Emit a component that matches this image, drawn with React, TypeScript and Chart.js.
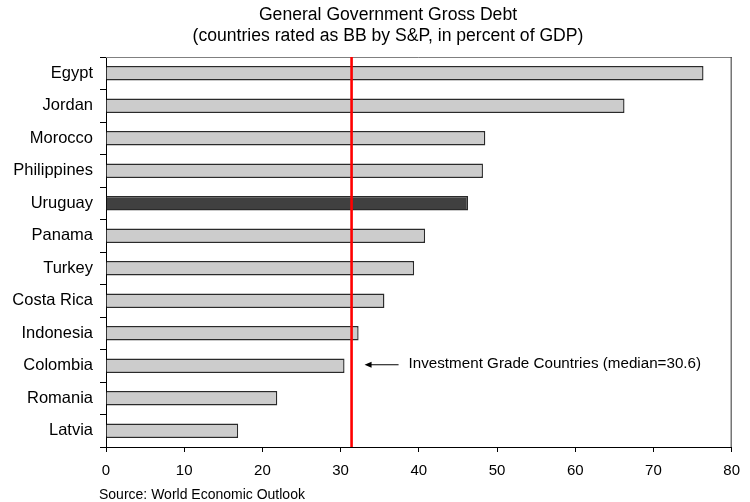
import React, { useEffect, useRef } from "react";
import { Chart, registerables } from "chart.js";

Chart.register(...registerables);

const categories = [
  "Egypt",
  "Jordan",
  "Morocco",
  "Philippines",
  "Uruguay",
  "Panama",
  "Turkey",
  "Costa Rica",
  "Indonesia",
  "Colombia",
  "Romania",
  "Latvia",
];
const debtValues = [76.4, 66.3, 48.5, 48.2, 46.3, 40.8, 39.4, 35.6, 32.3, 30.5, 21.9, 16.9];
const highlighted = "Uruguay";
const medianLineValue = 31.4;
const annotationCategory = "Colombia";
const annotationText = "Investment Grade Countries (median=30.6)";
const titleLines = [
  "General Government Gross Debt",
  "(countries rated as BB by S&P, in percent of GDP)",
];
const sourceText = "Source: World Economic Outlook";
const xMin = 0;
const xMax = 80;
const xStep = 10;

const FONT = "'Liberation Sans', Arial, Helvetica, sans-serif";

export default function App() {
  const ref = useRef<HTMLCanvasElement | null>(null);

  useEffect(() => {
    if (!ref.current) return;
    const overlay = {
      id: "overlay",
      beforeDatasetsDraw(chart: any) {
        const { ctx, chartArea } = chart;
        ctx.save();
        ctx.lineWidth = 1;
        ctx.strokeStyle = "#808080";
        ctx.beginPath();
        ctx.moveTo(chartArea.left, chartArea.top + 0.5);
        ctx.lineTo(chartArea.right, chartArea.top + 0.5);
        ctx.stroke();
        ctx.strokeStyle = "#303030";
        ctx.beginPath();
        ctx.moveTo(chartArea.right - 0.5, chartArea.top);
        ctx.lineTo(chartArea.right - 0.5, chartArea.bottom);
        ctx.stroke();
        ctx.restore();
      },
      afterDatasetsDraw(chart: any) {
        const { ctx, chartArea, scales } = chart;
        const xs = scales.x;
        const ys = scales.y;
        ctx.save();
        const rx = xs.getPixelForValue(medianLineValue);
        ctx.strokeStyle = "#ff0000";
        ctx.lineWidth = 2.6;
        ctx.beginPath();
        ctx.moveTo(rx, chartArea.top);
        ctx.lineTo(rx, chartArea.bottom);
        ctx.stroke();
        const ay = ys.getPixelForValue(categories.indexOf(annotationCategory)) - 1.5;
        const ax0 = rx + 13;
        const ax1 = rx + 47;
        ctx.strokeStyle = "#000";
        ctx.lineWidth = 1;
        ctx.beginPath();
        ctx.moveTo(ax0 + 4, ay + 0.5);
        ctx.lineTo(ax1, ay + 0.5);
        ctx.stroke();
        ctx.fillStyle = "#000";
        ctx.beginPath();
        ctx.moveTo(ax0, ay + 0.5);
        ctx.lineTo(ax0 + 7, ay - 2.5);
        ctx.lineTo(ax0 + 7, ay + 3.5);
        ctx.closePath();
        ctx.fill();
        ctx.font = `15.2px ${FONT}`;
        ctx.textAlign = "left";
        ctx.textBaseline = "middle";
        ctx.fillText(annotationText, rx + 57, ay);
        ctx.restore();
      },
      afterDraw(chart: any) {
        const { ctx } = chart;
        ctx.save();
        ctx.fillStyle = "#000";
        ctx.font = `17.6px ${FONT}`;
        ctx.textAlign = "center";
        ctx.textBaseline = "middle";
        ctx.fillText(titleLines[0], 388, 15);
        ctx.fillText(titleLines[1], 388, 36);
        ctx.font = `14px ${FONT}`;
        ctx.textAlign = "left";
        ctx.fillText(sourceText, 99, 495);
        ctx.restore();
      },
    };

    const chart = new Chart(ref.current, {
      type: "bar",
      data: {
        labels: categories,
        datasets: [
          {
            data: debtValues,
            backgroundColor: categories.map((c) => (c === highlighted ? "#404040" : "#cccccc")),
            borderColor: "#2a2a2a",
            borderWidth: 1.4,
            barPercentage: 0.44,
            categoryPercentage: 1,
          },
        ],
      },
      options: {
        indexAxis: "y",
        animation: false,
        responsive: false,
        devicePixelRatio: 1,
        layout: { padding: { top: 57, right: 14, bottom: 14, left: 0 } },
        plugins: {
          legend: { display: false },
          tooltip: { enabled: false },
          title: { display: false },
        },
        scales: {
          x: {
            type: "linear",
            min: xMin,
            max: xMax,
            ticks: {
              stepSize: xStep,
              color: "#000",
              font: { family: FONT, size: 15 },
              padding: 10,
              maxRotation: 0,
            },
            grid: {
              drawOnChartArea: false,
              drawTicks: true,
              tickLength: 5,
              color: "#000",
            },
            border: { display: true, color: "#000", width: 1 },
            afterFit: (s: any) => {
              s.height = 41;
            },
          },
          y: {
            type: "category",
            ticks: {
              color: "#000",
              font: { family: FONT, size: 16.5 },
              padding: 7,
            },
            grid: {
              offset: true,
              drawOnChartArea: false,
              drawTicks: true,
              tickLength: 6,
              color: "#000",
            },
            border: { display: true, color: "#000", width: 1 },
            afterFit: (s: any) => {
              s.width = 106;
            },
          },
        },
      },
      plugins: [overlay],
    } as any);
    return () => chart.destroy();
  }, []);

  return (
    <div style={{ position: "fixed", left: 0, top: 0, width: 750, height: 502, background: "#fff" }}>
      <canvas ref={ref} width={750} height={502} style={{ display: "block" }} />
    </div>
  );
}
